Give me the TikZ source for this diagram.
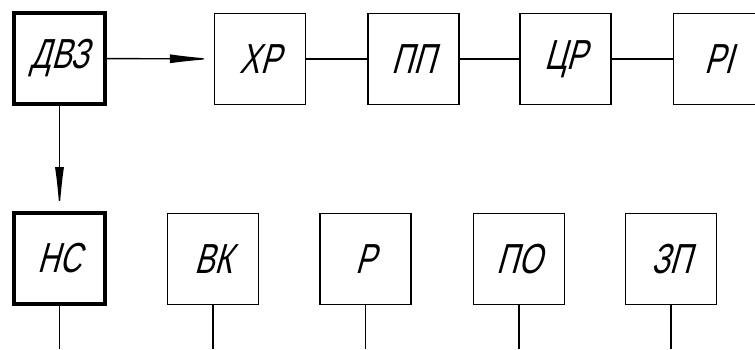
\documentclass[tikz,border=0pt]{standalone}
\usepackage{fontspec}
\newfontfamily\gost{Liberation Sans}[FakeSlant=0.28,FakeStretch=0.72]
\usetikzlibrary{arrows.meta}
\begin{document}
\begin{tikzpicture}[x=1pt,y=1pt,
  blk/.style={draw,line width=1.4pt,minimum width=91pt,minimum height=91pt,inner sep=0pt,font=\gost\fontsize{42}{42}\selectfont},
  thk/.style={blk,line width=4pt},
  conn/.style={line width=1.4pt},
  arr/.style={conn,-{Latex[length=44pt,width=9pt]}}]
\useasboundingbox (0,0) rectangle (755,349);
\clip (0,0) rectangle (755,349);
\node[thk] (dvz) at (59.5,290.5) {ДВЗ};
\node[blk] (xr) at (260,290) {ХР};
\node[blk] (pp) at (413.5,290) {ПП};
\node[blk] (cr) at (565.5,290) {ЦР};
\node[blk] (ri) at (719,290) {РІ};
\node[thk] (ns) at (59.5,90.5) {НС};
\node[blk] (vk) at (213,90) {ВК};
\node[blk] (r) at (365.5,90) {Р};
\node[blk] (po) at (519,90) {ПО};
\node[blk] (zp) at (671,90) {ЗП};
\draw[arr] (dvz) -- (xr);
\draw[arr] (dvz) -- (ns);
\draw[conn] (xr) -- (pp);
\draw[conn] (pp) -- (cr);
\draw[conn] (cr) -- (ri);
\coordinate (e1) at (59.5,0);
\coordinate (e2) at (213,0);
\coordinate (e3) at (365.5,0);
\coordinate (e4) at (519,0);
\coordinate (e5) at (671,0);
\draw[conn] (ns) -- (e1);
\draw[conn] (vk) -- (e2);
\draw[conn] (r) -- (e3);
\draw[conn] (po) -- (e4);
\draw[conn] (zp) -- (e5);
\end{tikzpicture}
\end{document}
